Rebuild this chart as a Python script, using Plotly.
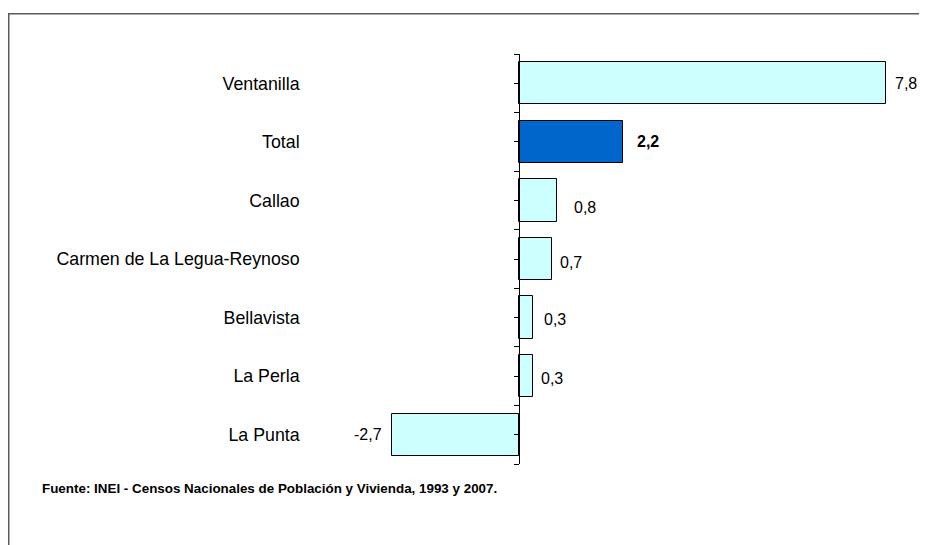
import plotly.graph_objects as go

categories = ["Ventanilla", "Total", "Callao", "Carmen de La Legua-Reynoso",
              "Bellavista", "La Perla", "La Punta"]
values = [7.8, 2.2, 0.8, 0.7, 0.3, 0.3, -2.7]
highlight = "Total"
source_note = "Fuente: INEI - Censos Nacionales de Población y Vivienda, 1993 y 2007."

# style (page has an 8px body margin, so figure coords = page coords - 8)
OFF = 8
W, H = 927 - OFF, 545 - OFF
ML, MR, MT, MB = 276, 8, 46, 81
XR = [-5, 8.5]
FONT = "Liberation Sans, Arial, sans-serif"
light = "#CCFFFF"
dark = "#0066CC"
label_dx = [7, 12, 15, 6, 9, 6, 8]
label_dy = [0, 0, -7, -3, -2, -2, 0]

pw = W - ML - MR
ph = H - MT - MB
def px_x(p):
    return (p - OFF - ML) / pw
def px_y(p):
    return (H - MB - (p - OFF)) / ph

idx = list(range(len(categories)))
colors = [dark if c == highlight else light for c in categories]

fig = go.Figure()
fig.add_trace(go.Bar(
    x=values, y=idx, orientation="h", width=0.72,
    marker=dict(color=colors, line=dict(color="#000000", width=1)),
    hoverinfo="skip", showlegend=False,
))

for i, (c, v) in enumerate(zip(categories, values)):
    txt = f"{v:.1f}".replace(".", ",")
    if c == highlight:
        txt = f"<b>{txt}</b>"
    fig.add_annotation(
        x=v, y=i, xref="x", yref="y", text=txt, showarrow=False,
        xanchor="left" if v >= 0 else "right",
        xshift=label_dx[i] if v >= 0 else -label_dx[i],
        yshift=label_dy[i],
        font=dict(family=FONT, size=16, color="#000000"),
    )

fig.add_annotation(
    x=px_x(40), y=px_y(488), xref="paper", yref="paper",
    text=f"<b>{source_note}</b>", showarrow=False,
    xanchor="left", yanchor="middle",
    font=dict(family=FONT, size=13.4, color="#000000"),
)

fig.add_shape(type="rect", xref="paper", yref="paper",
              x0=px_x(8.75), x1=px_x(960), y0=px_y(13.75), y1=px_y(580),
              line=dict(color="#5a5a5a", width=1.5), fillcolor="rgba(0,0,0,0)")

fig.update_layout(
    width=W, height=H,
    margin=dict(l=ML, r=MR, t=MT, b=MB),
    paper_bgcolor="#ffffff", plot_bgcolor="#ffffff",
    font=dict(family=FONT, size=18, color="#000000"),
    bargap=0,
)
fig.update_xaxes(range=XR, visible=False, showgrid=False, zeroline=False)
fig.update_yaxes(
    range=[len(categories) - 0.5, -0.5],
    tickmode="array", tickvals=idx, ticktext=categories,
    anchor="free", position=(0 - XR[0]) / (XR[1] - XR[0]),
    showline=True, linecolor="#000000", linewidth=1,
    ticks="outside", ticklen=5, tickcolor="#000000", tickwidth=1,
    ticklabelstandoff=211,
    showgrid=False, zeroline=False,
    minor=dict(ticks="outside", ticklen=5, tickcolor="#000000", tickwidth=1,
               tick0=-0.5, dtick=1, showgrid=False),
    tickfont=dict(family=FONT, size=17.8, color="#000000"),
)

fig.write_html("out.html")
